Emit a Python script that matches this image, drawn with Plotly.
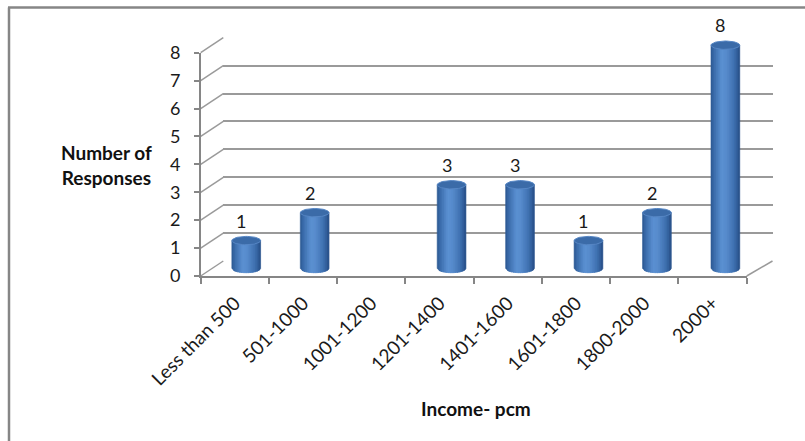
import numpy as np
import plotly.graph_objects as go

categories = ["Less than 500", "501-1000", "1001-1200", "1201-1400",
              "1401-1600", "1601-1800", "1800-2000", "2000+"]
responses = [1, 2, 0, 3, 3, 1, 2, 8]
y_ticks = [0, 1, 2, 3, 4, 5, 6, 7, 8]
y_title = "Number of<br>Responses"
x_title = "Income- pcm"

W, H = 805, 441
YMAX = 8


def px(x):
    return x / W


def py(y):
    return 1 - y / H


# pseudo-3D planes (pixel geometry)
FX0, FX1 = 200.7, 746.7      # front plane x extent
FY0, FY1 = 276.0, 52.7       # front plane y of 0 and YMAX
BX0, BX1 = 223.3, 772.5      # back wall x extent
DY = -15.0
BY0, BY1 = FY0 + DY, FY1 + DY
UNIT = (FY0 - FY1) / YMAX
MX0, MX1 = (FX0 + BX0) / 2, (FX1 + BX1) / 2
MY0 = FY0 + DY / 2
LO, HI = -0.5, 8.6

GRID = "#9a9a9a"
AXC = "#868686"
FONT = "Lato, Liberation Sans, sans-serif"
TXT = "#1a1a1a"

fig = go.Figure()

# dummy trace carrying the category axis
fig.add_trace(go.Scatter(x=categories, y=[0] * len(categories), mode="markers",
                         marker=dict(opacity=0), hoverinfo="skip",
                         showlegend=False, xaxis="x", yaxis="y"))
# dummy trace for back wall
fig.add_trace(go.Scatter(x=[0], y=[0], mode="markers", marker=dict(opacity=0),
                         hoverinfo="skip", showlegend=False, xaxis="x2", yaxis="y2"))

# cylinder bodies: vertical strips with shading
w = 0.42
e = 0.15
N = 16
stops = [(0.0, (0x2b, 0x58, 0x90)), (0.12, (0x3b, 0x6d, 0xac)),
         (0.38, (0x5c, 0x91, 0xd2)), (0.55, (0x57, 0x8b, 0xcc)),
         (0.78, (0x42, 0x74, 0xb4)), (0.93, (0x31, 0x5e, 0x9a)),
         (1.0, (0x26, 0x4c, 0x82))]


def col(t):
    for (t0, c0), (t1, c1) in zip(stops[:-1], stops[1:]):
        if t0 <= t <= t1:
            f = (t - t0) / (t1 - t0)
            c = [round(a + (b - a) * f) for a, b in zip(c0, c1)]
            return "rgb(%d,%d,%d)" % tuple(c)
    return "rgb(38,76,130)"


for k in range(N):
    u0 = -w / 2 + k * w / N
    u1 = min(w / 2, u0 + 1.6 * w / N)
    xs, ys = [], []
    for i, v in enumerate(responses):
        if v <= 0:
            continue
        b0 = -e * np.sqrt(max(0.0, 1 - (2 * u0 / w) ** 2))
        b1 = -e * np.sqrt(max(0.0, 1 - (2 * u1 / w) ** 2))
        xs += [i + u0, i + u1, i + u1, i + u0, i + u0, None]
        ys += [v, v, b1, b0, v, None]
    c = col((k + 0.5) / N)
    fig.add_trace(go.Scatter(x=xs, y=ys, mode="lines", fill="toself",
                             fillcolor=c, line=dict(width=0.6, color=c),
                             hoverinfo="skip", showlegend=False,
                             xaxis="x3", yaxis="y3"))

# cylinder caps
th = np.linspace(0, 2 * np.pi, 60)
cx, cy = [], []
for i, v in enumerate(responses):
    if v <= 0:
        continue
    cx += list(i + (w / 2) * np.cos(th)) + [None]
    cy += list(v + e * np.sin(th)) + [None]
fig.add_trace(go.Scatter(x=cx, y=cy, mode="lines", fill="toself",
                         fillcolor="#3b6ba8", line=dict(width=1, color="#5686c4"),
                         hoverinfo="skip", showlegend=False,
                         xaxis="x3", yaxis="y3"))

# value labels
for i, v in enumerate(responses):
    if v <= 0:
        continue
    fig.add_annotation(x=i, y=v, xref="x3", yref="y3", text=str(v),
                       showarrow=False, yshift=20, xshift=-5,
                       font=dict(family=FONT, size=18, color=TXT))

shapes = []
# left wall diagonals at each tick
for t in y_ticks:
    shapes.append(dict(type="line", xref="paper", yref="paper",
                       x0=px(FX0), y0=py(FY0 - t * UNIT),
                       x1=px(BX0), y1=py(BY0 - t * UNIT),
                       line=dict(color=GRID, width=1.5), layer="below"))
# floor right edge
shapes.append(dict(type="line", xref="paper", yref="paper",
                   x0=px(FX1), y0=py(FY0), x1=px(BX1), y1=py(BY0),
                   line=dict(color=GRID, width=1.5), layer="below"))
# outer frame (left and top)
shapes.append(dict(type="line", xref="paper", yref="paper",
                   x0=px(9), y0=py(7.5), x1=px(9), y1=0,
                   line=dict(color=AXC, width=2.5)))
shapes.append(dict(type="line", xref="paper", yref="paper",
                   x0=px(8), y0=py(7.5), x1=1, y1=py(7.5),
                   line=dict(color=AXC, width=2.5)))

fig.add_annotation(x=px(107), y=py(165), xref="paper", yref="paper",
                   xanchor="center", yanchor="middle",
                   text="<b>" + y_title + "</b>", showarrow=False,
                   font=dict(family=FONT, size=19, color="#111"), align="center")
fig.add_annotation(x=px(476), y=py(408), xref="paper", yref="paper",
                   xanchor="center", yanchor="middle",
                   text="<b>" + x_title + "</b>", showarrow=False,
                   font=dict(family=FONT, size=19, color="#111"))

fig.update_layout(
    width=W, height=H, margin=dict(l=0, r=0, t=0, b=0, autoexpand=False),
    paper_bgcolor="white", plot_bgcolor="rgba(0,0,0,0)",
    showlegend=False, shapes=shapes,
    xaxis=dict(domain=[px(FX0), px(FX1)], type="category",
               categoryorder="array", categoryarray=categories,
               range=[-0.5, len(categories) - 0.5], anchor="y",
               showline=True, linecolor=AXC, linewidth=1.5,
               ticks="outside", tickson="boundaries", ticklen=6,
               tickcolor=AXC, tickwidth=1.5, tickangle=-45,
               showgrid=False, zeroline=False, fixedrange=True,
               automargin=False, ticklabelstandoff=7,
               tickfont=dict(family=FONT, size=19, color=TXT)),
    yaxis=dict(domain=[py(FY0), py(FY1)], range=[0, YMAX], anchor="x",
               tickvals=y_ticks, showline=True, linecolor=AXC, linewidth=1.5,
               ticks="outside", ticklen=5, tickcolor=AXC, tickwidth=1.5,
               showgrid=False, zeroline=False, fixedrange=True,
               automargin=False, ticklabelstandoff=10,
               tickfont=dict(family=FONT, size=18, color=TXT)),
    xaxis2=dict(domain=[px(BX0), px(BX1)], anchor="y2", visible=False,
                range=[0, 1], fixedrange=True, automargin=False),
    yaxis2=dict(domain=[py(BY0), py(BY1)], anchor="x2",
                range=[-0.0001, YMAX + 0.0001], tickvals=y_ticks,
                showticklabels=False, ticks="", showgrid=True,
                gridcolor=GRID, gridwidth=1.5, zeroline=False,
                showline=False, fixedrange=True, automargin=False),
    xaxis3=dict(domain=[px(MX0), px(MX1)], anchor="y3", visible=False,
                range=[-0.5, len(categories) - 0.5], fixedrange=True,
                automargin=False),
    yaxis3=dict(domain=[py(MY0 - LO * UNIT), py(MY0 - HI * UNIT)],
                anchor="x3", visible=False, range=[LO, HI], fixedrange=True,
                automargin=False),
)

fig.write_html("out.html")
